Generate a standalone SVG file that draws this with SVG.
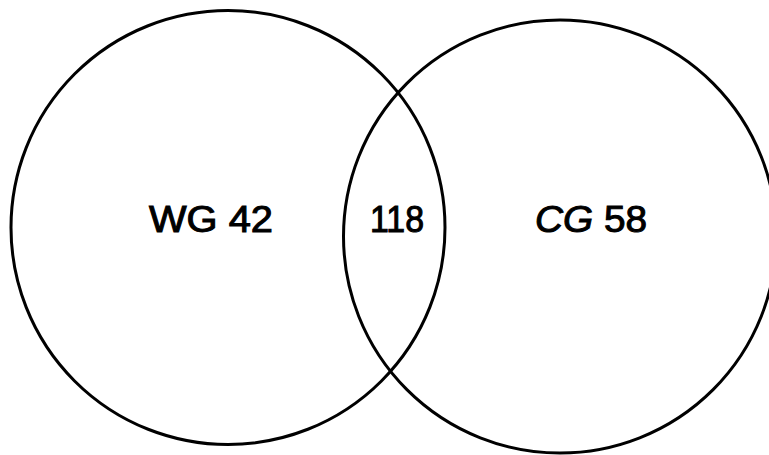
<svg xmlns="http://www.w3.org/2000/svg" width="769" height="455" viewBox="0 0 769 455">
<style>
.c{fill:none;stroke:#000;stroke-width:3}
.t{font-family:"Liberation Sans",Arial,sans-serif;font-size:36px;fill:#000;stroke:#000;stroke-width:1;text-anchor:middle}
</style>
<rect width="769" height="455" fill="#fff"/>
<g id="connectors"></g>
<g id="set-wg"><circle class="c" cx="228" cy="227.5" r="217"/></g>
<g id="set-cg"><circle class="c" cx="560" cy="236.5" r="216.5"/></g>
<g id="label-wg"><text class="t" x="211" y="232" textLength="124" lengthAdjust="spacingAndGlyphs">WG 42</text></g>
<g id="label-both"><text class="t" x="397" y="232" textLength="54" lengthAdjust="spacingAndGlyphs">118</text></g>
<g id="label-cg"><text class="t" x="591" y="232" textLength="112" lengthAdjust="spacingAndGlyphs"><tspan font-style="italic">CG</tspan> 58</text></g>
</svg>
